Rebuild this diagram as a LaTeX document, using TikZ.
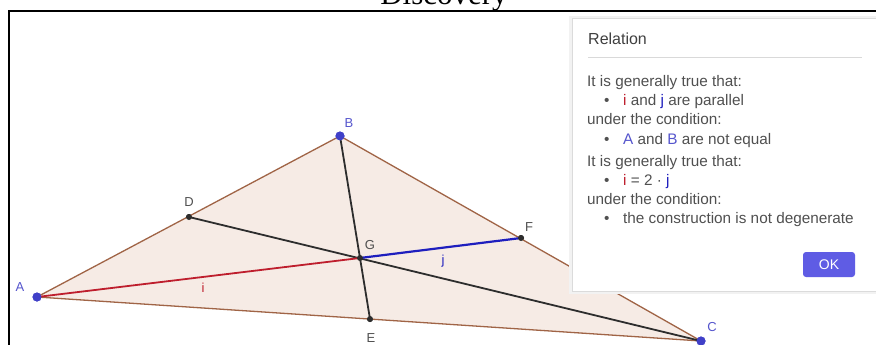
\documentclass[tikz,border=0pt]{standalone}
\usepackage{fontspec}
\setmainfont{Liberation Sans}
\newfontfamily\titlefont{Liberation Serif}
\definecolor{polyedge}{RGB}{160,100,70}
\definecolor{polyfill}{RGB}{246,235,229}
\definecolor{freeblue}{RGB}{64,64,200}
\definecolor{lblblue}{RGB}{85,85,205}
\definecolor{ired}{RGB}{190,30,45}
\definecolor{jblue}{RGB}{30,30,190}
\definecolor{okblue}{RGB}{95,92,228}
\definecolor{dlgtext}{RGB}{80,80,80}
\definecolor{segdark}{RGB}{45,45,45}
\begin{document}
\begin{tikzpicture}[x=1pt,y=-1pt,
  freept/.style={circle,fill=freeblue,inner sep=0pt,minimum size=9pt},
  deppt/.style={circle,fill=segdark,inner sep=0pt,minimum size=6pt},
  ptlbl/.style={inner sep=0pt,font=\fontsize{13}{13}\selectfont},
  seg/.style={line width=1.8pt,line cap=round},
  dlgline/.style={inner sep=0pt,anchor=mid west,text=dlgtext,font=\fontsize{15.3}{18}\selectfont},
  bulletnode/.style={inner sep=0pt,anchor=mid west,text=dlgtext,font=\fontsize{15.3}{18}\selectfont}]
\useasboundingbox (0,0) rectangle (876,345);
\clip (0,0) rectangle (876,345);
\fill[white] (0,0) rectangle (876,345);
% title and frame
\node[font=\titlefont\fontsize{31}{31}\selectfont,anchor=base,inner sep=0pt] (title) at (444,5) {Discovery};
\coordinate (f1) at (8,11);
\coordinate (f2) at (878,11);
\coordinate (f3) at (9,11);
\coordinate (f4) at (9,347);
\draw[line width=2pt] (f1) -- (f2);
\draw[line width=2pt] (f3) -- (f4);
% points
\node[freept] (A) at (37,297) {};
\node[freept] (B) at (340,136) {};
\node[freept] (C) at (701,341) {};
\node[deppt] (D) at (189,217) {};
\node[deppt] (E) at (370,319) {};
\node[deppt] (F) at (521,238) {};
\node[deppt] (G) at (360,258) {};
% triangle
\fill[polyfill] (A.center) -- (B.center) -- (C.center) -- cycle;
\draw[polyedge,line width=1.3pt,line join=round] (A.center) -- (B.center) -- (C.center) -- cycle;
% medians
\draw[seg,segdark] (B.center) -- (E.center);
\draw[seg,segdark] (C.center) -- (D.center);
\draw[seg,ired] (A.center) -- (G.center);
\draw[seg,jblue,line width=2.2pt] (G.center) -- (F.center);
% redraw points on top
\node[freept] at (A) {};
\node[freept] at (B) {};
\node[freept] at (C) {};
\node[deppt] at (D) {};
\node[deppt] at (E) {};
\node[deppt] at (F) {};
\node[deppt] at (G) {};
% labels
\node[ptlbl,text=lblblue] (lA) at (20,287) {A};
\node[ptlbl,text=lblblue] (lB) at (349,123) {B};
\node[ptlbl,text=lblblue] (lC) at (712,327) {C};
\node[ptlbl,text=dlgtext] (lD) at (189,202) {D};
\node[ptlbl,text=dlgtext] (lE) at (371,338) {E};
\node[ptlbl,text=dlgtext] (lF) at (529,227) {F};
\node[ptlbl,text=dlgtext] (lG) at (370,245) {G};
\node[ptlbl,text=ired] (li) at (203,288) {i};
\node[ptlbl,text=jblue] (lj) at (443,261) {j};
% dialog
\fill[black!5] (569,16) rectangle (880,294);
\node[fill=white,draw=black!14,line width=0.8pt,anchor=north west,inner sep=0pt,minimum width=310pt,minimum height=273pt] (dlg) at (572,18) {};
\node[inner sep=0pt,anchor=mid west,text=black!75,font=\fontsize{16}{18}\selectfont] (hdr) at (588,42) {Relation};
\coordinate (s1) at (588,58);
\coordinate (s2) at (862,58);
\draw[black!15,line width=1pt] (s1) -- (s2);
\node[dlgline] (t1) at (587,84) {It is generally true that:};
\node[bulletnode] (b1) at (604,103) {•};
\node[dlgline] (t2) at (623,103) {{\color{ired}i} and {\color{jblue}j} are parallel};
\node[dlgline] (t3) at (587,122) {under the condition:};
\node[bulletnode] (b2) at (604,142) {•};
\node[dlgline] (t4) at (623,142) {{\color{lblblue}A} and {\color{lblblue}B} are not equal};
\node[dlgline] (t5) at (587,164) {It is generally true that:};
\node[bulletnode] (b3) at (604,183) {•};
\node[dlgline] (t6) at (623,183) {{\color{ired}i} = 2 · {\color{jblue}j}};
\node[dlgline] (t7) at (587,202) {under the condition:};
\node[bulletnode] (b4) at (604,221) {•};
\node[dlgline] (t8) at (623,221) {the construction is not degenerate};
\node[fill=okblue,rounded corners=3pt,minimum width=52pt,minimum height=25pt,inner sep=0pt,text=white,font=\fontsize{14}{14}\selectfont] (ok) at (829,264.5) {OK};
\end{tikzpicture}
\end{document}
